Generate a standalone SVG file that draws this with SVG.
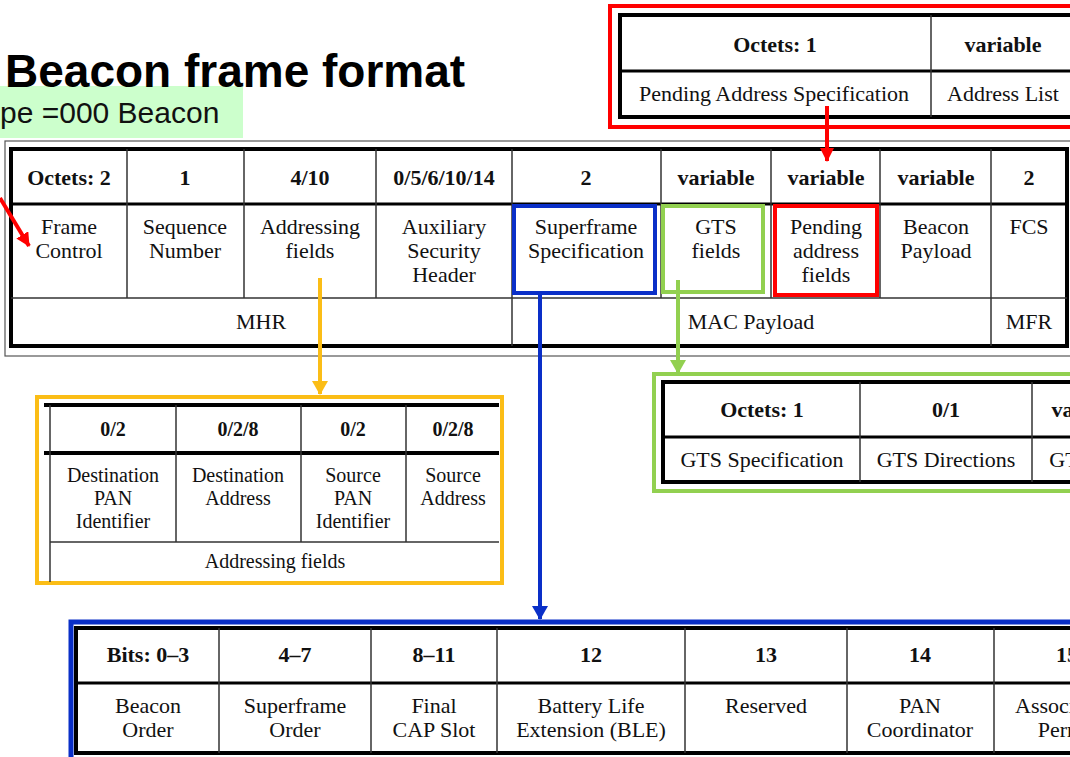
<svg xmlns="http://www.w3.org/2000/svg" width="1070" height="757" viewBox="0 0 1070 757">
<defs>
<style>
.t{font-family:"Liberation Serif","Times New Roman",serif;font-size:22px;fill:#111;text-anchor:middle}
.b{font-weight:bold}
.s{font-size:20px}
.thick{stroke:#000;stroke-width:4;fill:none}
.mid{stroke:#000;stroke-width:3;fill:none}
.thin{stroke:#333;stroke-width:1.5;fill:none}
</style>
<marker id="mr" markerUnits="userSpaceOnUse" markerWidth="16" markerHeight="14" refX="13" refY="7" orient="auto"><path d="M0,0 L14,7 L0,14 Z" fill="#ff0000"/></marker>
<marker id="mb" markerUnits="userSpaceOnUse" markerWidth="16" markerHeight="16" refX="13" refY="8" orient="auto"><path d="M0,0 L14,8 L0,16 Z" fill="#0a2fc8"/></marker>
<marker id="mg" markerUnits="userSpaceOnUse" markerWidth="16" markerHeight="16" refX="13" refY="8" orient="auto"><path d="M0,0 L14,8 L0,16 Z" fill="#92d050"/></marker>
<marker id="mo" markerUnits="userSpaceOnUse" markerWidth="16" markerHeight="16" refX="13" refY="8" orient="auto"><path d="M0,0 L14,8 L0,16 Z" fill="#fbbd16"/></marker>
</defs>
<rect width="1070" height="757" fill="#fff"/>

<g id="title">
<rect x="0" y="86" width="243" height="52" fill="#ccffcc"/>
<text x="5" y="87" font-family="Liberation Sans,Arial,sans-serif" font-weight="bold" font-size="46" fill="#000">Beacon frame format</text>
<text x="0" y="123" font-family="Liberation Sans,Arial,sans-serif" font-size="30" fill="#111">pe =000 Beacon</text>
</g>

<g id="pending-table">
<rect x="610" y="6" width="470" height="121" fill="none" stroke="#ff0000" stroke-width="4"/>
<rect x="620" y="15" width="460" height="102" class="thick"/>
<line x1="620" y1="71" x2="1070" y2="71" class="mid"/>
<line x1="931" y1="15" x2="931" y2="117" class="thin"/>
<text class="t b" x="775" y="52">Octets: 1</text>
<text class="t b" x="1003" y="52">variable</text>
<text class="t" x="774" y="101">Pending Address Specification</text>
<text class="t" x="1003" y="101">Address List</text>
</g>

<g id="main-table">
<rect x="5" y="141" width="1080" height="215" fill="none" stroke="#555" stroke-width="1.2"/>
<rect x="11" y="149" width="1056" height="197" class="thick"/>
<line x1="11" y1="204" x2="1067" y2="204" class="mid"/>
<line x1="11" y1="298" x2="1067" y2="298" class="thin"/>
<g class="thin">
<line x1="127" y1="149" x2="127" y2="298"/>
<line x1="244" y1="149" x2="244" y2="298"/>
<line x1="376" y1="149" x2="376" y2="298"/>
<line x1="512" y1="149" x2="512" y2="346"/>
<line x1="661" y1="149" x2="661" y2="298"/>
<line x1="771" y1="149" x2="771" y2="298"/>
<line x1="880" y1="149" x2="880" y2="298"/>
<line x1="991" y1="149" x2="991" y2="346"/>
</g>
<text class="t b" x="69" y="185">Octets: 2</text>
<text class="t b" x="185" y="185">1</text>
<text class="t b" x="310" y="185">4/10</text>
<text class="t b" x="444" y="185">0/5/6/10/14</text>
<text class="t b" x="586" y="185">2</text>
<text class="t b" x="716" y="185">variable</text>
<text class="t b" x="826" y="185">variable</text>
<text class="t b" x="936" y="185">variable</text>
<text class="t b" x="1029" y="185">2</text>
<text class="t" x="69" y="234">Frame</text><text class="t" x="69" y="258">Control</text>
<text class="t" x="185" y="234">Sequence</text><text class="t" x="185" y="258">Number</text>
<text class="t" x="310" y="234">Addressing</text><text class="t" x="310" y="258">fields</text>
<text class="t" x="444" y="234">Auxiliary</text><text class="t" x="444" y="258">Security</text><text class="t" x="444" y="282">Header</text>
<text class="t" x="586" y="234">Superframe</text><text class="t" x="586" y="258">Specification</text>
<text class="t" x="716" y="234">GTS</text><text class="t" x="716" y="258">fields</text>
<text class="t" x="826" y="234">Pending</text><text class="t" x="826" y="258">address</text><text class="t" x="826" y="282">fields</text>
<text class="t" x="936" y="234">Beacon</text><text class="t" x="936" y="258">Payload</text>
<text class="t" x="1029" y="234">FCS</text>
<text class="t" x="261" y="329">MHR</text>
<text class="t" x="751" y="329">MAC Payload</text>
<text class="t" x="1029" y="329">MFR</text>
<rect x="514" y="206" width="141" height="87" fill="none" stroke="#0a2fc8" stroke-width="4"/>
<rect x="663" y="206" width="100" height="86" fill="none" stroke="#92d050" stroke-width="4"/>
<rect x="775" y="206" width="102" height="89" fill="none" stroke="#ff0000" stroke-width="4"/>
</g>

<g id="addressing-table">
<rect x="37" y="397" width="465" height="186" fill="none" stroke="#fbbd16" stroke-width="4"/>
<line x1="44" y1="405" x2="499" y2="405" class="thick"/>
<line x1="44" y1="453" x2="499" y2="453" class="thick"/>
<line x1="50" y1="405" x2="50" y2="582" class="thin"/>
<line x1="50" y1="542" x2="499" y2="542" class="thin"/>
<g class="thin">
<line x1="176" y1="405" x2="176" y2="542"/>
<line x1="301" y1="405" x2="301" y2="542"/>
<line x1="406" y1="405" x2="406" y2="542"/>
</g>
<text class="t b s" x="113" y="436">0/2</text>
<text class="t b s" x="238" y="436">0/2/8</text>
<text class="t b s" x="353" y="436">0/2</text>
<text class="t b s" x="453" y="436">0/2/8</text>
<text class="t s" x="113" y="482">Destination</text><text class="t s" x="113" y="505">PAN</text><text class="t s" x="113" y="528">Identifier</text>
<text class="t s" x="238" y="482">Destination</text><text class="t s" x="238" y="505">Address</text>
<text class="t s" x="353" y="482">Source</text><text class="t s" x="353" y="505">PAN</text><text class="t s" x="353" y="528">Identifier</text>
<text class="t s" x="453" y="482">Source</text><text class="t s" x="453" y="505">Address</text>
<text class="t s" x="275" y="568">Addressing fields</text>
</g>

<g id="gts-table">
<rect x="654" y="374" width="430" height="117" fill="none" stroke="#92d050" stroke-width="4"/>
<rect x="663" y="382" width="420" height="100" class="thick"/>
<line x1="663" y1="437" x2="1070" y2="437" class="mid"/>
<line x1="860" y1="382" x2="860" y2="482" class="thin"/>
<line x1="1032" y1="382" x2="1032" y2="482" class="thin"/>
<text class="t b" x="762" y="417">Octets: 1</text>
<text class="t b" x="946" y="417">0/1</text>
<text class="t b" x="1090" y="417">variable</text>
<text class="t" x="762" y="467">GTS Specification</text>
<text class="t" x="946" y="467">GTS Directions</text>
<text class="t" x="1090" y="467">GTS List</text>
</g>

<g id="superframe-table">
<rect x="71" y="622" width="1020" height="150" fill="none" stroke="#0a2fc8" stroke-width="5"/>
<rect x="76" y="628" width="1010" height="125" class="thick"/>
<line x1="76" y1="683" x2="1070" y2="683" class="mid"/>
<g class="thin">
<line x1="219" y1="628" x2="219" y2="753"/>
<line x1="371" y1="628" x2="371" y2="753"/>
<line x1="497" y1="628" x2="497" y2="753"/>
<line x1="685" y1="628" x2="685" y2="753"/>
<line x1="847" y1="628" x2="847" y2="753"/>
<line x1="994" y1="628" x2="994" y2="753"/>
</g>
<text class="t b" x="148" y="662">Bits: 0–3</text>
<text class="t b" x="295" y="662">4–7</text>
<text class="t b" x="434" y="662">8–11</text>
<text class="t b" x="591" y="662">12</text>
<text class="t b" x="766" y="662">13</text>
<text class="t b" x="920" y="662">14</text>
<text class="t b" x="1067" y="662">15</text>
<text class="t" x="148" y="713">Beacon</text><text class="t" x="148" y="737">Order</text>
<text class="t" x="295" y="713">Superframe</text><text class="t" x="295" y="737">Order</text>
<text class="t" x="434" y="713">Final</text><text class="t" x="434" y="737">CAP Slot</text>
<text class="t" x="591" y="713">Battery Life</text><text class="t" x="591" y="737">Extension (BLE)</text>
<text class="t" x="766" y="713">Reserved</text>
<text class="t" x="920" y="713">PAN</text><text class="t" x="920" y="737">Coordinator</text>
<text class="t" x="1067" y="713">Association</text><text class="t" x="1067" y="737">Permit</text>
</g>

<g id="connectors" fill="none">
<line x1="827" y1="106" x2="827" y2="161" stroke="#ff0000" stroke-width="4" marker-end="url(#mr)"/>
<line x1="0" y1="198" x2="29" y2="246" stroke="#ff0000" stroke-width="4" marker-end="url(#mr)"/>
<line x1="320" y1="278" x2="320" y2="394" stroke="#fbbd16" stroke-width="4" marker-end="url(#mo)"/>
<line x1="678" y1="280" x2="678" y2="373" stroke="#92d050" stroke-width="4" marker-end="url(#mg)"/>
<line x1="540" y1="293" x2="540" y2="619" stroke="#0a2fc8" stroke-width="4" marker-end="url(#mb)"/>
</g>
</svg>
